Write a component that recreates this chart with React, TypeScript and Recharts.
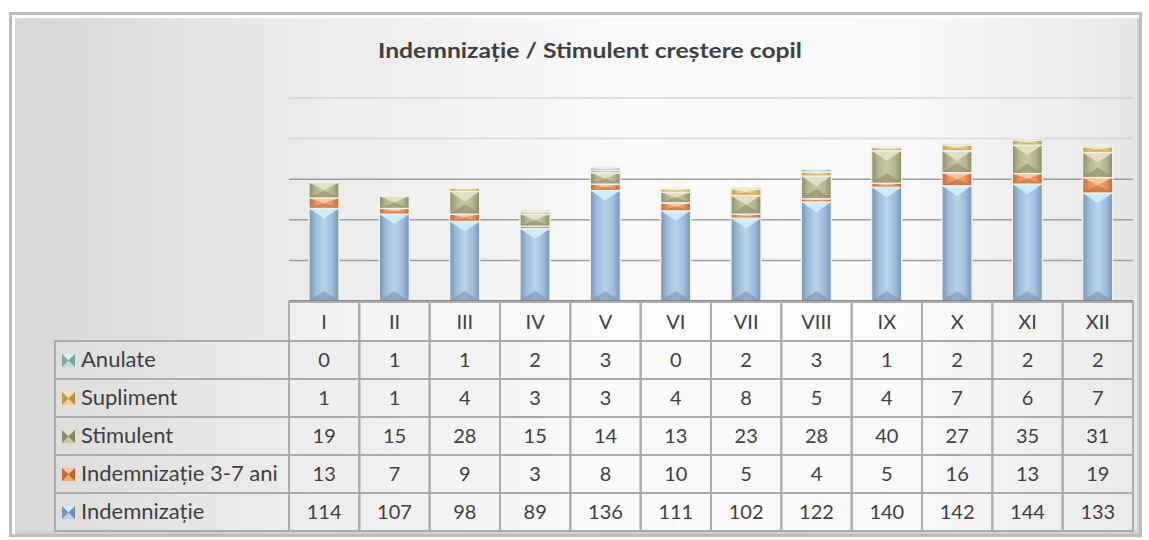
import React from 'react';
import { BarChart, Bar, XAxis, YAxis, CartesianGrid } from 'recharts';

const months = ['I', 'II', 'III', 'IV', 'V', 'VI', 'VII', 'VIII', 'IX', 'X', 'XI', 'XII'];
const indemnizatie = [114, 107, 98, 89, 136, 111, 102, 122, 140, 142, 144, 133];
const indem37 = [13, 7, 9, 3, 8, 10, 5, 4, 5, 16, 13, 19];
const stimulent = [19, 15, 28, 15, 14, 13, 23, 28, 40, 27, 35, 31];
const supliment = [1, 1, 4, 3, 3, 4, 8, 5, 4, 7, 6, 7];
const anulate = [0, 1, 1, 2, 3, 0, 2, 3, 1, 2, 2, 2];
const yTicks = [0, 50, 100, 150, 200, 250];

const series = [
  { key: 'ind', name: 'Indemnizație', values: indemnizatie, main: '#9dbcdb', edge: '#7695b8', light: '#b9d3ea', top: '#cdeefc', bottom: '#6f8fb2' },
  { key: 'ind37', name: 'Indemnizație 3-7 ani', values: indem37, main: '#e8915a', edge: '#c06a36', light: '#f2aa78', top: '#f8c8a0', bottom: '#b8652f' },
  { key: 'stim', name: 'Stimulent', values: stimulent, main: '#b5b690', edge: '#8d8e68', light: '#c8c9a6', top: '#e2e3c6', bottom: '#868760' },
  { key: 'sup', name: 'Supliment', values: supliment, main: '#e2c078', edge: '#c09a48', light: '#ecd49c', top: '#f6e4b8', bottom: '#b89040' },
  { key: 'anu', name: 'Anulate', values: anulate, main: '#a6cfc7', edge: '#7eaaa2', light: '#bfe0da', top: '#d8f0ec', bottom: '#78a49c' },
];

const data = months.map((m, i) => {
  const row: any = { m };
  series.forEach((s) => { row[s.key] = s.values[i]; });
  return row;
});

const tableRows = [...series].reverse();

const W = 1149;
const H = 540;
const PLOT_LEFT = 289;
const PLOT_RIGHT = 1133;
const PLOT_TOP = 98;
const PLOT_BOTTOM = 301;
const COL_W = (PLOT_RIGHT - PLOT_LEFT) / months.length;
const HEADER_H = 39;
const ROW_H = 38;
const FONT = 'Lato, "Open Sans", sans-serif';
const TEXT = '#404040';
const BORDER = '#acacac';

const makeShape = (s: any) => (props: any) => {
  const { x, y, width, height } = props;
  if (!height || height <= 0.5) return <g />;
  const t = Math.min(10, height / 2);
  return (
    <g>
      <rect x={x} y={y} width={width} height={height} fill={`url(#g-${s.key})`} />
      <polygon points={`${x},${y} ${x + width},${y} ${x + width / 2},${y + t}`} fill={s.top} opacity={0.95} />
      <polygon points={`${x},${y + height} ${x + width},${y + height} ${x + width / 2},${y + height - t}`} fill={s.bottom} opacity={0.55} />
      <rect x={x} y={y} width={width} height={height} fill="none" stroke="#f2f2ea" strokeWidth={1.3} />
    </g>
  );
};

const gridLine = (p: any) => {
  const { x1, x2, y1, y2 } = p;
  const light = y1 < PLOT_TOP + 60;
  return <line key={`gl-${y1}`} x1={x1} x2={x2} y1={y1} y2={y2} stroke={light ? '#d6d6d6' : '#a0a0a0'} strokeWidth={1.5} />;
};

const ColumnTick = (props: any) => {
  const { x, y, payload } = props;
  const i = payload.index;
  const x0 = x - COL_W / 2;
  const top = y + 1;
  return (
    <g>
      <rect x={x0} y={top} width={COL_W} height={HEADER_H} fill="rgba(255,255,255,0.35)" stroke={BORDER} strokeWidth={2} />
      <text x={x} y={top + HEADER_H / 2 + 7} textAnchor="middle" fontFamily={FONT} fontSize={20} fill={TEXT}>{payload.value}</text>
      {tableRows.map((s, r) => {
        const ry = top + HEADER_H + r * ROW_H;
        return (
          <g key={s.key}>
            <rect x={x0} y={ry} width={COL_W} height={ROW_H} fill="rgba(255,255,255,0.15)" stroke={BORDER} strokeWidth={2} />
            <text x={x} y={ry + ROW_H / 2 + 7} textAnchor="middle" fontFamily={FONT} fontSize={20} fill={TEXT}>{s.values[i]}</text>
          </g>
        );
      })}
    </g>
  );
};

const LegendIcon = ({ x, y, s }: any) => (
  <g>
    <rect x={x} y={y} width={13} height={13} fill={s.main} />
    <polygon points={`${x},${y} ${x + 13},${y} ${x + 6.5},${y + 6.5}`} fill={s.top} />
    <polygon points={`${x},${y + 13} ${x + 13},${y + 13} ${x + 6.5},${y + 6.5}`} fill={s.light} />
    <polygon points={`${x},${y} ${x},${y + 13} ${x + 6.5},${y + 6.5}`} fill={s.edge} />
    <polygon points={`${x + 13},${y} ${x + 13},${y + 13} ${x + 6.5},${y + 6.5}`} fill={s.bottom} />
  </g>
);

export default function App() {
  const labelTop = PLOT_BOTTOM + 1 + HEADER_H;
  return (
    <div style={{ position: 'absolute', left: 0, top: 0, width: W, height: H, overflow: 'hidden', background: '#ffffff' }}>
      <div
        style={{
          position: 'absolute', left: 9, top: 12, width: 1127, height: 519,
          border: '3px solid #bdbdbd',
          boxShadow: 'inset 3px 3px 0 #ffffff, inset -2px -3px 0 #d0d0d0',
          background: 'linear-gradient(to right, #d6d6d6 0%, #eaeaea 25%, #fafafa 55%, #f8f8f8 80%, #e6e6e6 100%)',
        }}
      />
      <div style={{ position: 'absolute', left: 0, top: 0 }}>
        <BarChart width={W} height={H} data={data} margin={{ top: PLOT_TOP, left: PLOT_LEFT, right: W - PLOT_RIGHT, bottom: 9 }} barSize={30}>
          <defs>
            {series.map((s) => (
              <linearGradient key={s.key} id={`g-${s.key}`} x1="0" y1="0" x2="1" y2="0">
                <stop offset="0%" stopColor={s.edge} />
                <stop offset="22%" stopColor={s.main} />
                <stop offset="50%" stopColor={s.light} />
                <stop offset="78%" stopColor={s.main} />
                <stop offset="100%" stopColor={s.edge} />
              </linearGradient>
            ))}
          </defs>
          <CartesianGrid vertical={false} horizontal={gridLine} />
          <XAxis
            dataKey="m"
            height={H - 9 - PLOT_BOTTOM}
            tickLine={false}
            tickSize={0}
            tickMargin={0}
            axisLine={{ stroke: '#8a8a8a', strokeWidth: 2 }}
            tick={<ColumnTick />}
            interval={0}
          />
          <YAxis hide width={0} domain={[0, 250]} ticks={yTicks} />
          {series.map((s) => (
            <Bar key={s.key} dataKey={s.key} name={s.name} stackId="a" isAnimationActive={false} shape={makeShape(s)} />
          ))}
        </BarChart>
      </div>
      <svg width={W} height={H} style={{ position: 'absolute', left: 0, top: 0, pointerEvents: 'none' }}>
        <text x={590} y={58} textAnchor="middle" fontFamily={FONT} fontWeight="bold" fontSize={21} textLength={424} lengthAdjust="spacingAndGlyphs" fill={TEXT}>
          Indemnizație / Stimulent creștere copil
        </text>
        {tableRows.map((s, r) => {
          const ry = labelTop + r * ROW_H;
          return (
            <g key={s.key}>
              <rect x={55} y={ry} width={PLOT_LEFT - 55} height={ROW_H} fill="rgba(255,255,255,0.12)" stroke={BORDER} strokeWidth={2} />
              <LegendIcon x={62} y={ry + 13} s={s} />
              <text x={81} y={ry + ROW_H / 2 + 7} fontFamily={FONT} fontSize={22} fill={TEXT}>{s.name}</text>
            </g>
          );
        })}
      </svg>
    </div>
  );
}
